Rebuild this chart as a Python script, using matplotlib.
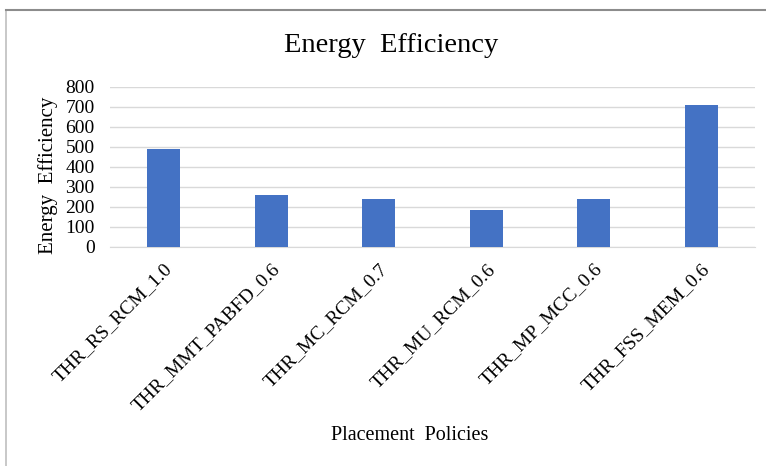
import matplotlib
matplotlib.use("Agg")
import matplotlib.pyplot as plt
from matplotlib.lines import Line2D

policies = ["THR_RS_RCM_1.0", "THR_MMT_PABFD_0.6", "THR_MC_RCM_0.7",
            "THR_MU_RCM_0.6", "THR_MP_MCC_0.6", "THR_FSS_MEM_0.6"]
efficiency = [490, 258, 238, 184, 238, 708]
y_ticks = [0, 100, 200, 300, 400, 500, 600, 700, 800]

plt.rcParams['font.family'] = ['Liberation Serif', 'DejaVu Serif']

W, H = 766, 466
fig = plt.figure(figsize=(W / 100, H / 100), dpi=100)
ax = fig.add_axes([110 / W, 1 - 246.7 / H, (755 - 110) / W, (246.7 - 86.5) / H])

x = list(range(len(policies)))
ax.bar(x, efficiency, width=0.31, color="#4472C4", zorder=3)
ax.set_xlim(-0.5, len(policies) - 0.5)
ax.set_ylim(0, 800)
ax.set_yticks(y_ticks)
ax.set_yticklabels([str(v) for v in y_ticks], fontsize=14)
ax.yaxis.grid(True, color="#d9d9d9", linewidth=1.0, zorder=0)
ax.set_axisbelow(True)
for side in ("top", "right", "left"):
    ax.spines[side].set_visible(False)
ax.spines["bottom"].set_color("#d9d9d9")
ax.tick_params(axis="both", length=0)
ax.tick_params(axis="y", pad=11)

ax.set_xticks(x)
ax.set_xticklabels(policies, rotation=45, ha="right", va="top",
                   rotation_mode="anchor", fontsize=14)
ax.tick_params(axis="x", pad=10)

fig.text(48 / W, 1 - 175 / H, "Energy  Efficiency", rotation=90,
         ha="center", va="center", fontsize=15)
fig.text(391 / W, 1 - 45 / H, "Energy  Efficiency", ha="center", va="center", fontsize=20.5)
fig.text(410 / W, 1 - 436 / H, "Placement  Policies", ha="center", va="center", fontsize=14.5)

# outer chart frame
fig.add_artist(Line2D([6 / W, 6 / W], [0, 1 - 10 / H], transform=fig.transFigure,
                      color="#bfbfbf", linewidth=1.2))
fig.add_artist(Line2D([6 / W, 1], [1 - 10 / H, 1 - 10 / H], transform=fig.transFigure,
                      color="#8c8c8c", linewidth=1.5))

fig.savefig("out.png", dpi=100)
